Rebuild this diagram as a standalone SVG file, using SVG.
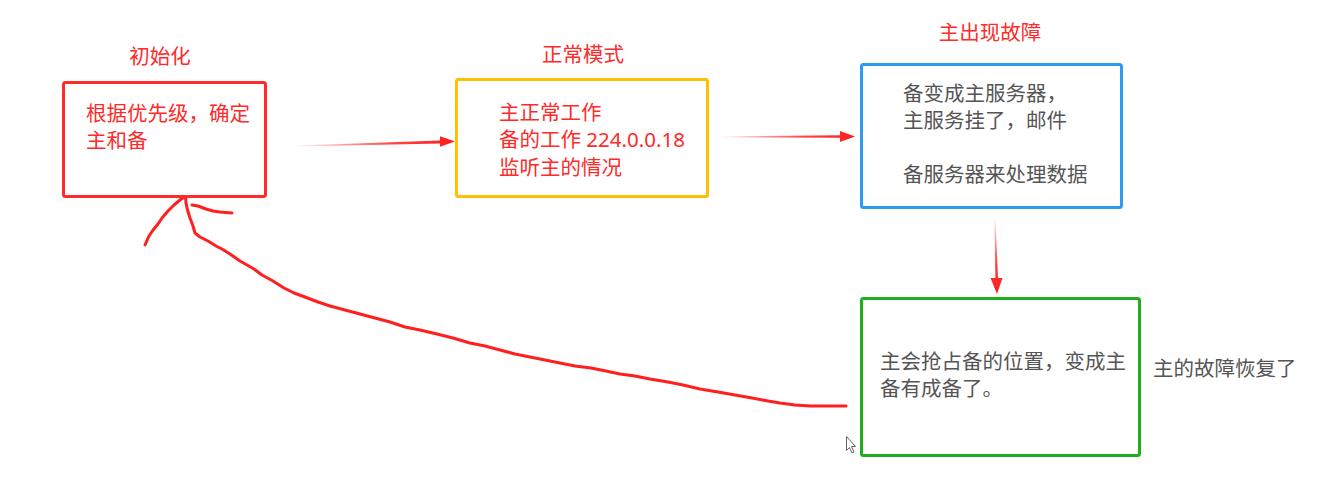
<svg xmlns="http://www.w3.org/2000/svg" width="1331" height="481" viewBox="0 0 1331 481">
<style>
text{font-family:"Noto Sans","Noto Sans CJK SC",sans-serif;font-size:20.5px}
.red{fill:#ff2a2a}
.gray{fill:#555555}
.box{fill:#ffffff;stroke-width:3}
.title{text-anchor:middle}
.hand{fill:none;stroke:#ff1f1f;stroke-width:3;stroke-linecap:round;stroke-linejoin:round}
</style>
<defs>
<linearGradient id="gh" x1="0" y1="0" x2="1" y2="0">
<stop offset="0" stop-color="#ff1a1a" stop-opacity="0.05"/>
<stop offset="0.6" stop-color="#ff1a1a" stop-opacity="0.8"/>
<stop offset="1" stop-color="#ff1a1a"/>
</linearGradient>
<linearGradient id="gv" x1="0" y1="0" x2="0" y2="1">
<stop offset="0" stop-color="#ff1a1a" stop-opacity="0.1"/>
<stop offset="0.6" stop-color="#ff1a1a" stop-opacity="0.85"/>
<stop offset="1" stop-color="#ff1a1a"/>
</linearGradient>
</defs>
<rect width="1331" height="481" fill="#ffffff"/>

<g id="connectors">
<polygon fill="url(#gh)" points="298,145.5 440,140.4 440,136.3 455,141.5 440,146.7 440,143.4 298,146.5"/>
<polygon fill="url(#gh)" points="722,136.5 840,135.3 840,131 855,136.5 840,142 840,137.8 722,137.5"/>
<polygon fill="url(#gv)" points="994.5,220 995.4,278 990.5,278 997,294 1002.5,278 998,278 995.5,220"/>
<g id="hand-drawn">
<path class="hand" d="M145,245 L149,236 L153,230 L158,224 L162,218 L168,211 L174,205 L180,200 L185.5,196"/>
<path class="hand" d="M192,205 L198,206 L206,209 L213,211 L220,212 L232,213"/>
<path class="hand" d="M185.5,196 L186,203 L187.5,210 L190,218 L193,226 L195,233 L200,237 L208,241 L216,246 L222,249 L230,254 L240,261 L254,269 L262,275 L273,281 L284,288 L294,293 L305,297 L318,302 L330,306 L345,310 L360,314 L375,318 L390,322 L405,327 L420,330 L437,334 L453,338 L470,343 L485,346 L500,350 L515,354 L530,357 L545,360 L560,363 L575,366 L591,368 L606,371 L620,374 L635,376 L650,379 L668,382 L683,385 L700,389 L718,392 L735,395 L752,398 L768,401 L780,403 L795,405 L810,406 L830,406 L846,406"/>
</g>
</g>

<g id="node-init">
<text class="red title" x="160" y="64">初始化</text>
<rect class="box" x="63.5" y="82.5" width="202" height="114" rx="2" stroke="#ff2a2a"/>
<text class="red" x="86" y="121">根据优先级，确定</text>
<text class="red" x="86" y="148">主和备</text>
</g>

<g id="node-normal">
<text class="red title" x="583" y="62">正常模式</text>
<rect class="box" x="456.5" y="79.5" width="251" height="117" rx="2" stroke="#ffc000"/>
<text class="red" x="499" y="120">主正常工作</text>
<text class="red" x="499" y="147">备的工作 224.0.0.18</text>
<text class="red" x="499" y="175">监听主的情况</text>
</g>

<g id="node-fault">
<text class="red title" x="990" y="40">主出现故障</text>
<rect class="box" x="861.5" y="64.5" width="260" height="143" rx="2" stroke="#2e9bf2"/>
<text class="gray" x="903" y="101">备变成主服务器，</text>
<text class="gray" x="903" y="128">主服务挂了，邮件</text>
<text class="gray" x="903" y="182">备服务器来处理数据</text>
</g>

<g id="node-recover">
<rect class="box" x="861.5" y="298.5" width="278" height="157" rx="2" stroke="#1fae1f"/>
<text class="gray" x="880" y="369">主会抢占备的位置，变成主</text>
<text class="gray" x="880" y="396">备有成备了。</text>
<text class="gray" x="1153" y="376">主的故障恢复了</text>
</g>

<path d="M846.5,436.5 L846.5,450.5 L849.5,447.5 L852,453 L854,452 L851.5,446.5 L855.5,446.5 Z" fill="#ffffff" stroke="#666666" stroke-width="1"/>
</svg>
